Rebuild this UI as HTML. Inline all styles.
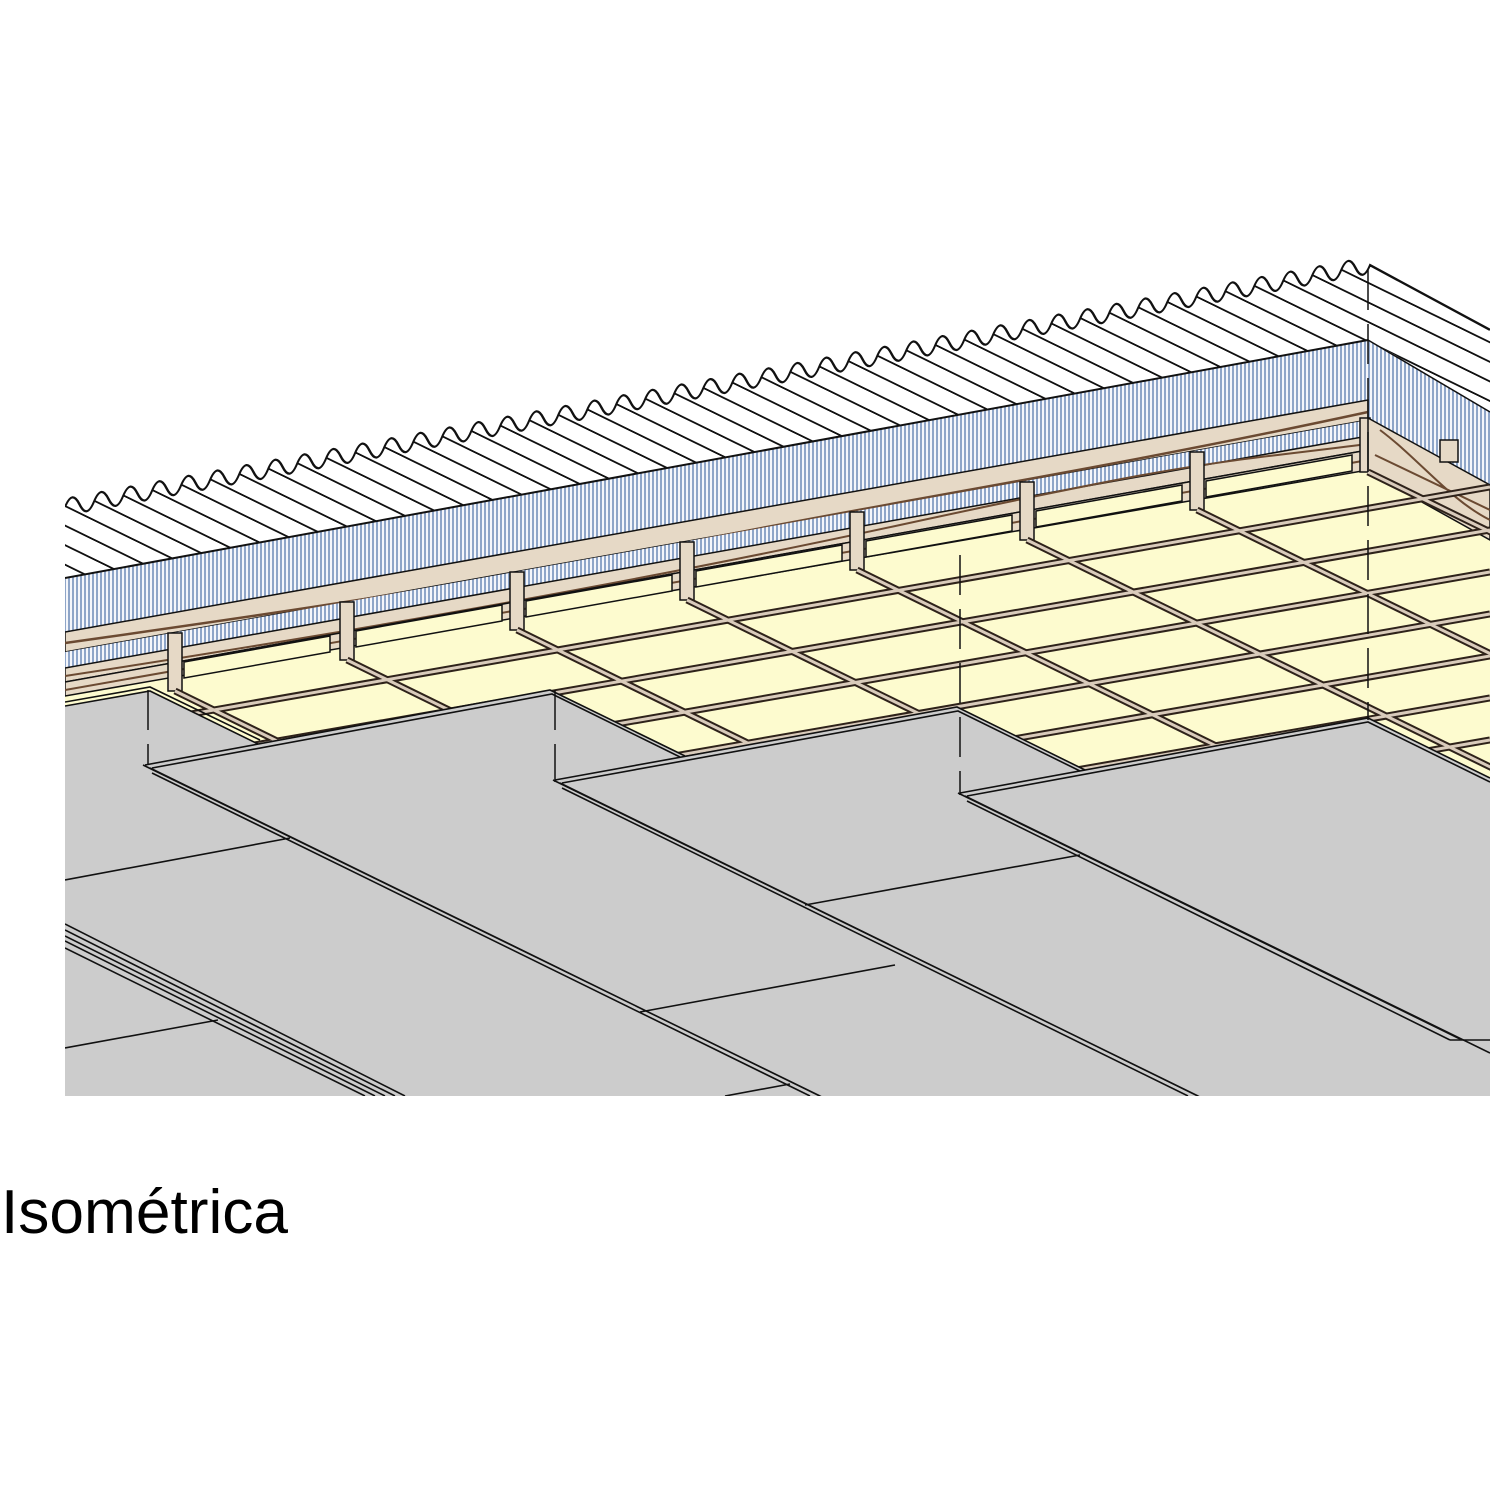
<!DOCTYPE html>
<html><head><meta charset="utf-8"><style>
html,body{margin:0;padding:0;background:#fff;}
svg{display:block;}
</style></head><body>
<svg width="1500" height="1500" viewBox="0 0 1500 1500" xmlns="http://www.w3.org/2000/svg">
<defs>
<clipPath id="cl"><rect x="65" y="200" width="1425" height="896"/></clipPath>
<pattern id="blue" patternUnits="userSpaceOnUse" width="4" height="10">
<rect width="4" height="10" fill="#f4f6fb"/><rect width="2" height="10" fill="#8ea5c8"/>
</pattern>
<pattern id="rl" patternUnits="userSpaceOnUse" width="29" height="200" patternTransform="skewX(56)">
<rect width="29" height="200" fill="#fff"/><rect x="0" width="3" height="200" fill="#111"/>
</pattern>
</defs>
<g clip-path="url(#cl)">
<polygon points="65,690 1368,468 1490,530 1490,800 65,800" fill="#fdfbcf"/>
<g transform="translate(65,507) skewY(-10.5)">
<path id="wv" d="M0,0 c5,-11 9.5,-11 14.5,0 5,11 9.5,11 14.5,0 5,-11 9.5,-11 14.5,0 5,11 9.5,11 14.5,0 5,-11 9.5,-11 14.5,0 5,11 9.5,11 14.5,0 5,-11 9.5,-11 14.5,0 5,11 9.5,11 14.5,0 5,-11 9.5,-11 14.5,0 5,11 9.5,11 14.5,0
 5,-11 9.5,-11 14.5,0 5,11 9.5,11 14.5,0 5,-11 9.5,-11 14.5,0 5,11 9.5,11 14.5,0 5,-11 9.5,-11 14.5,0 5,11 9.5,11 14.5,0 5,-11 9.5,-11 14.5,0 5,11 9.5,11 14.5,0 5,-11 9.5,-11 14.5,0 5,11 9.5,11 14.5,0
 5,-11 9.5,-11 14.5,0 5,11 9.5,11 14.5,0 5,-11 9.5,-11 14.5,0 5,11 9.5,11 14.5,0 5,-11 9.5,-11 14.5,0 5,11 9.5,11 14.5,0 5,-11 9.5,-11 14.5,0 5,11 9.5,11 14.5,0 5,-11 9.5,-11 14.5,0 5,11 9.5,11 14.5,0
 5,-11 9.5,-11 14.5,0 5,11 9.5,11 14.5,0 5,-11 9.5,-11 14.5,0 5,11 9.5,11 14.5,0 5,-11 9.5,-11 14.5,0 5,11 9.5,11 14.5,0 5,-11 9.5,-11 14.5,0 5,11 9.5,11 14.5,0 5,-11 9.5,-11 14.5,0 5,11 9.5,11 14.5,0
 5,-11 9.5,-11 14.5,0 5,11 9.5,11 14.5,0 5,-11 9.5,-11 14.5,0 5,11 9.5,11 14.5,0 5,-11 9.5,-11 14.5,0 5,11 9.5,11 14.5,0 5,-11 9.5,-11 14.5,0 5,11 9.5,11 14.5,0 5,-11 9.5,-11 14.5,0 5,11 9.5,11 14.5,0
 5,-11 9.5,-11 14.5,0 5,11 9.5,11 14.5,0 5,-11 9.5,-11 14.5,0 5,11 9.5,11 14.5,0 5,-11 9.5,-11 14.5,0 5,11 9.5,11 14.5,0 5,-11 9.5,-11 14.5,0 5,11 9.5,11 14.5,0 5,-11 9.5,-11 14.5,0 5,11 9.5,11 14.5,0
 5,-11 9.5,-11 14.5,0 5,11 9.5,11 14.5,0 5,-11 9.5,-11 14.5,0 5,11 9.5,11 14.5,0 5,-11 9.5,-11 14.5,0 5,11 9.5,11 14.5,0 5,-11 9.5,-11 14.5,0 5,11 9.5,11 14.5,0 5,-11 9.5,-11 14.5,0 5,11 9.5,11 14.5,0
 5,-11 9.5,-11 14.5,0 5,11 9.5,11 14.5,0 5,-11 9.5,-11 14.5,0 5,11 9.5,11 14.5,0 5,-11 9.5,-11 14.5,0 5,11 9.5,11 14.5,0 5,-11 9.5,-11 14.5,0 5,11 9.5,11 14.5,0 5,-11 9.5,-11 14.5,0 5,11 9.5,11 14.5,0
 5,-11 9.5,-11 14.5,0 5,11 9.5,11 14.5,0 5,-11 9.5,-11 14.5,0 5,11 9.5,11 14.5,0 5,-11 9.5,-11 14.5,0 5,11 9.5,11 14.5,0 5,-11 9.5,-11 14.5,0 5,11 9.5,11 14.5,0 5,-11 9.5,-11 14.5,0 5,11 9.5,11 14.5,0
 L1305,74 L0,71 Z" fill="url(#rl)"/>
<polygon points="1305,0 1425,87 1425,167 1303,74" fill="url(#rl)"/>
<path d="M0,0 c5,-11 9.5,-11 14.5,0 5,11 9.5,11 14.5,0 5,-11 9.5,-11 14.5,0 5,11 9.5,11 14.5,0 5,-11 9.5,-11 14.5,0 5,11 9.5,11 14.5,0 5,-11 9.5,-11 14.5,0 5,11 9.5,11 14.5,0 5,-11 9.5,-11 14.5,0 5,11 9.5,11 14.5,0
 5,-11 9.5,-11 14.5,0 5,11 9.5,11 14.5,0 5,-11 9.5,-11 14.5,0 5,11 9.5,11 14.5,0 5,-11 9.5,-11 14.5,0 5,11 9.5,11 14.5,0 5,-11 9.5,-11 14.5,0 5,11 9.5,11 14.5,0 5,-11 9.5,-11 14.5,0 5,11 9.5,11 14.5,0
 5,-11 9.5,-11 14.5,0 5,11 9.5,11 14.5,0 5,-11 9.5,-11 14.5,0 5,11 9.5,11 14.5,0 5,-11 9.5,-11 14.5,0 5,11 9.5,11 14.5,0 5,-11 9.5,-11 14.5,0 5,11 9.5,11 14.5,0 5,-11 9.5,-11 14.5,0 5,11 9.5,11 14.5,0
 5,-11 9.5,-11 14.5,0 5,11 9.5,11 14.5,0 5,-11 9.5,-11 14.5,0 5,11 9.5,11 14.5,0 5,-11 9.5,-11 14.5,0 5,11 9.5,11 14.5,0 5,-11 9.5,-11 14.5,0 5,11 9.5,11 14.5,0 5,-11 9.5,-11 14.5,0 5,11 9.5,11 14.5,0
 5,-11 9.5,-11 14.5,0 5,11 9.5,11 14.5,0 5,-11 9.5,-11 14.5,0 5,11 9.5,11 14.5,0 5,-11 9.5,-11 14.5,0 5,11 9.5,11 14.5,0 5,-11 9.5,-11 14.5,0 5,11 9.5,11 14.5,0 5,-11 9.5,-11 14.5,0 5,11 9.5,11 14.5,0
 5,-11 9.5,-11 14.5,0 5,11 9.5,11 14.5,0 5,-11 9.5,-11 14.5,0 5,11 9.5,11 14.5,0 5,-11 9.5,-11 14.5,0 5,11 9.5,11 14.5,0 5,-11 9.5,-11 14.5,0 5,11 9.5,11 14.5,0 5,-11 9.5,-11 14.5,0 5,11 9.5,11 14.5,0
 5,-11 9.5,-11 14.5,0 5,11 9.5,11 14.5,0 5,-11 9.5,-11 14.5,0 5,11 9.5,11 14.5,0 5,-11 9.5,-11 14.5,0 5,11 9.5,11 14.5,0 5,-11 9.5,-11 14.5,0 5,11 9.5,11 14.5,0 5,-11 9.5,-11 14.5,0 5,11 9.5,11 14.5,0
 5,-11 9.5,-11 14.5,0 5,11 9.5,11 14.5,0 5,-11 9.5,-11 14.5,0 5,11 9.5,11 14.5,0 5,-11 9.5,-11 14.5,0 5,11 9.5,11 14.5,0 5,-11 9.5,-11 14.5,0 5,11 9.5,11 14.5,0 5,-11 9.5,-11 14.5,0 5,11 9.5,11 14.5,0
 5,-11 9.5,-11 14.5,0 5,11 9.5,11 14.5,0 5,-11 9.5,-11 14.5,0 5,11 9.5,11 14.5,0 5,-11 9.5,-11 14.5,0 5,11 9.5,11 14.5,0 5,-11 9.5,-11 14.5,0 5,11 9.5,11 14.5,0 5,-11 9.5,-11 14.5,0 5,11 9.5,11 14.5,0
 L1425,87" fill="none" stroke="#111" stroke-width="2.2"/>
</g>
<polygon points="65,578 1368,340 1368,404 65,634" fill="url(#blue)"/>
<line x1="65" y1="578" x2="1368" y2="340" stroke="#111" stroke-width="2"/>
<polygon points="1368,340 1490,412 1490,530 1368,455" fill="url(#blue)"/>
<line x1="1368" y1="340" x2="1490" y2="412" stroke="#111" stroke-width="1.5"/>
<polygon points="65,632 1368,400 1368,420 65,652" fill="#e6d9c6" stroke="#111" stroke-width="1.5"/>
<path d="M65,643 C300,610 500,580 700,540 S1100,470 1368,412" fill="none" stroke="#6b4a32" stroke-width="2.5"/>
<polygon points="65,652 1368,420 1368,436 65,668" fill="url(#blue)"/>
<polygon points="65,668 1368,436 1368,450 65,682" fill="#e6d9c6" stroke="#111" stroke-width="1.5"/>
<path d="M65,676 C300,640 600,590 900,525 S1200,465 1368,444" fill="none" stroke="#6b4a32" stroke-width="2"/>
<polygon points="65,682 1368,450 1368,470 65,696" fill="#e6d9c6" stroke="#111" stroke-width="1.5"/>
<path d="M65,690 C400,630 800,560 1368,460" fill="none" stroke="#6b4a32" stroke-width="2"/>
<g stroke="#111" stroke-width="1.5">
<polygon points="184,662 330,636 330,652 184,678" fill="#fdfbcf"/>
<polygon points="356,631 502,605 502,621 356,647" fill="#fdfbcf"/>
<polygon points="526,601 672,575 672,591 526,617" fill="#fdfbcf"/>
<polygon points="696,571 842,545 842,561 696,587" fill="#fdfbcf"/>
<polygon points="866,541 1012,515 1012,531 866,557" fill="#fdfbcf"/>
<polygon points="1036,511 1182,485 1182,501 1036,527" fill="#fdfbcf"/>
<polygon points="1206,481 1352,455 1352,471 1206,497" fill="#fdfbcf"/>
<rect x="168" y="633" width="14" height="58" fill="#e6d9c6"/>
<rect x="340" y="602" width="14" height="58" fill="#e6d9c6"/>
<rect x="510" y="572" width="14" height="58" fill="#e6d9c6"/>
<rect x="680" y="542" width="14" height="58" fill="#e6d9c6"/>
<rect x="850" y="512" width="14" height="58" fill="#e6d9c6"/>
<rect x="1020" y="482" width="14" height="58" fill="#e6d9c6"/>
<rect x="1190" y="452" width="14" height="58" fill="#e6d9c6"/>
<rect x="1360" y="418" width="10" height="54" fill="#e6d9c6"/>
</g>
<polygon points="1368,418 1490,485 1490,540 1368,472" fill="#e6d9c6" stroke="#111" stroke-width="1.5"/>
<path d="M1380,430 C1420,460 1450,500 1490,520 M1375,455 L1490,510" stroke="#6b4a32" stroke-width="2" fill="none"/>
<rect x="1440" y="440" width="18" height="22" fill="#e6d9c6" stroke="#111" stroke-width="1.5"/>
<g fill="none">
<g stroke="#2e221a" stroke-width="7">
<line x1="175" y1="691" x2="875" y2="1034"/><line x1="347" y1="660" x2="1047" y2="1003"/>
<line x1="517" y1="630" x2="1217" y2="973"/><line x1="687" y1="600" x2="1387" y2="943"/>
<line x1="857" y1="570" x2="1557" y2="913"/><line x1="1027" y1="540" x2="1727" y2="883"/>
<line x1="1197" y1="510" x2="1897" y2="853"/><line x1="1368" y1="472" x2="2068" y2="815"/>
<line x1="65" y1="736" x2="1490" y2="487"/><line x1="65" y1="778" x2="1490" y2="530"/>
<line x1="65" y1="820" x2="1490" y2="572"/><line x1="65" y1="862" x2="1490" y2="614"/>
<line x1="65" y1="904" x2="1490" y2="656"/><line x1="65" y1="946" x2="1490" y2="698"/>
<line x1="65" y1="988" x2="1490" y2="740"/>
</g>
<g stroke="#d9cbbb" stroke-width="3">
<line x1="175" y1="691" x2="875" y2="1034"/><line x1="347" y1="660" x2="1047" y2="1003"/>
<line x1="517" y1="630" x2="1217" y2="973"/><line x1="687" y1="600" x2="1387" y2="943"/>
<line x1="857" y1="570" x2="1557" y2="913"/><line x1="1027" y1="540" x2="1727" y2="883"/>
<line x1="1197" y1="510" x2="1897" y2="853"/><line x1="1368" y1="472" x2="2068" y2="815"/>
<line x1="65" y1="736" x2="1490" y2="487"/><line x1="65" y1="778" x2="1490" y2="530"/>
<line x1="65" y1="820" x2="1490" y2="572"/><line x1="65" y1="862" x2="1490" y2="614"/>
<line x1="65" y1="904" x2="1490" y2="656"/><line x1="65" y1="946" x2="1490" y2="698"/>
<line x1="65" y1="988" x2="1490" y2="740"/>
</g>
</g>
<polygon points="65,706 150,691 258,744 550,690 685,756 957,707 1085,770 1368,718 1490,778 1490,1096 65,1096" fill="#cccccc"/>
<g fill="none" stroke="#111" stroke-width="1.6">
<path d="M65,706 150,691 258,744 M65,702 150,687 260,740"/>
<path d="M145,765 550,690 685,756 M152,768 552,694 680,757"/>
<path d="M555,780 957,707 1085,770 M562,783 958,711 1080,771"/>
<path d="M960,793 1368,718 1490,778 M967,796 1368,722 1490,782"/>
<path d="M143,765 L820,1096 M150,768 L830,1101 M152,773 L810,1096"/>
<path d="M553,780 L1198,1096 M560,783 L1208,1101 M562,788 L1188,1096"/>
<path d="M958,793 L1460,1039 M965,796 L1490,1053 M967,801 L1450,1040"/>
<path d="M1450,1040 L1490,1040"/>
<path d="M65,924 L405,1096 M65,930 L395,1096 M65,936 L385,1096 M65,941 L375,1096 M65,948 L365,1096"/>
<path d="M65,880 L290,838 M65,1048 L218,1020 M640,1012 L895,965 M805,905 L1080,855 M725,1096 L790,1084"/>
</g>
<g stroke="#111" stroke-width="1.5" stroke-dasharray="40 14">
<line x1="148" y1="690" x2="148" y2="765"/>
<line x1="555" y1="690" x2="555" y2="782"/>
<line x1="960" y1="555" x2="960" y2="795"/>
<line x1="1368" y1="270" x2="1368" y2="720"/>
</g>
</g>
<text x="1" y="1233" font-family="Liberation Sans, Arial, sans-serif" font-size="62" textLength="287" lengthAdjust="spacingAndGlyphs" fill="#000">Isométrica</text>
</svg>
</body></html>
